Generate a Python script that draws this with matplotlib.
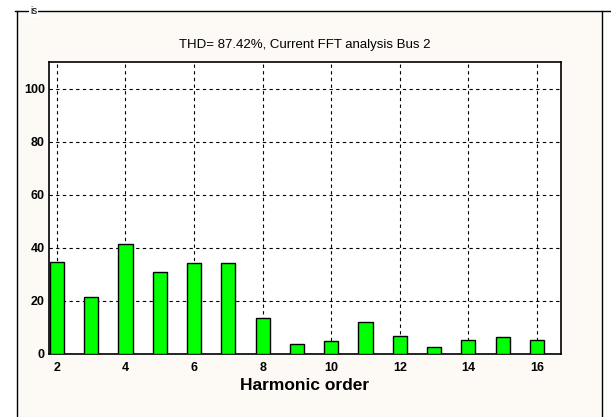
import matplotlib
matplotlib.use('Agg')
import matplotlib.pyplot as plt
from matplotlib.patches import Rectangle
from matplotlib.lines import Line2D

plt.rcParams['font.family'] = ['Liberation Sans', 'DejaVu Sans']

# harmonic orders and magnitudes (% of fundamental)
orders = [2, 3, 4, 5, 6, 7, 8, 9, 10, 11, 12, 13, 14, 15, 16]
mags = [34.8, 21.5, 41.5, 31.0, 34.3, 34.3, 13.6, 3.7, 4.9, 12.0, 6.8, 2.8, 5.3, 6.4, 5.3]
xticks = [2, 4, 6, 8, 10, 12, 14, 16]
yticks = [0, 20, 40, 60, 80, 100]
title = 'THD= 87.42%, Current FFT analysis Bus 2'

fig = plt.figure(figsize=(6.11, 4.17), dpi=100)
fig.patch.set_facecolor('white')

# outer panel frame
W, H = 611, 417
fig.patches.append(Rectangle((17 / W, 0), (602 - 17) / W, 1 - 11 / H, transform=fig.transFigure,
                             facecolor='#fdfaf6', edgecolor='none', zorder=-10))
fig.lines.append(Line2D([15 / W, 1], [1 - 11 / H, 1 - 11 / H], transform=fig.transFigure, color='black', lw=1, zorder=-5))
fig.lines.append(Line2D([17 / W, 17 / W], [0, 1 - 11 / H], transform=fig.transFigure, color='black', lw=1, zorder=-5))
fig.lines.append(Line2D([602 / W, 602 / W], [0, 1 - 11 / H], transform=fig.transFigure, color='black', lw=1, zorder=-5))
fig.text(30 / W, 1 - 11 / H, 'is', fontsize=7, va='center', ha='left',
         bbox=dict(facecolor='white', edgecolor='none', pad=0.5))

ax = fig.add_axes([49 / W, 1 - 354 / H, (561 - 49) / W, (354 - 62) / H])
ax.set_facecolor('white')
ax.bar(orders, mags, width=0.41, color='#00ff00', edgecolor='black', linewidth=1, zorder=3)

ax.set_xlim(1.77, 16.7)
ax.set_ylim(0, 110)
ax.set_xticks(xticks)
ax.set_yticks(yticks)
ax.tick_params(axis='y', length=0, labelsize=9, pad=3)
ax.tick_params(axis='x', length=0, labelsize=9, pad=6)
for lab in ax.get_xticklabels() + ax.get_yticklabels():
    lab.set_fontweight('bold')
ax.grid(True, color='black', linestyle=(0, (3, 3)), linewidth=0.8, zorder=1)
for s in ax.spines.values():
    s.set_linewidth(1.2)

ax.set_title(title, fontsize=9.5, pad=10)
ax.set_xlabel('Harmonic order', fontsize=12.5, fontweight='bold', labelpad=3)

plt.savefig('out.png', dpi=100)
